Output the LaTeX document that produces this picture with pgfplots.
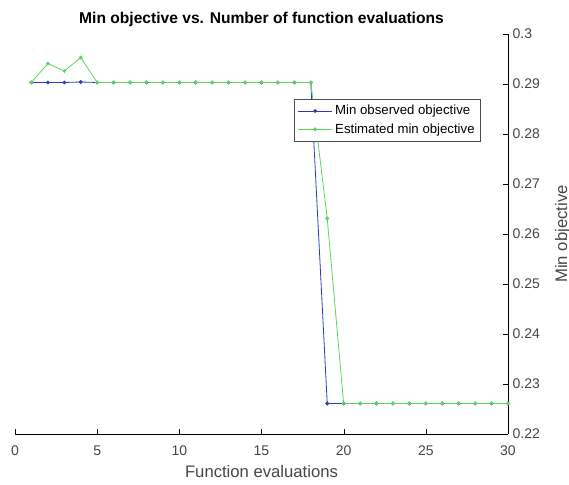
\documentclass[border=0pt]{standalone}
\usepackage{fontspec}
\setmainfont{Liberation Sans}
\usepackage{pgfplots}
\pgfplotsset{compat=1.18}
\definecolor{mblue}{RGB}{45,60,180}
\definecolor{mgreen}{RGB}{90,215,90}
\definecolor{lblgray}{RGB}{70,70,70}
\begin{document}
\begin{tikzpicture}
\begin{axis}[
    name=ax,
    width=369.75pt, height=300pt, scale only axis,
    xmin=0, xmax=30, ymin=0.22, ymax=0.30,
    axis x line*=bottom, axis y line*=right,
    axis line style={-, black},
    xtick={0,5,10,15,20,25,30},
    ytick={0.22,0.23,0.24,0.25,0.26,0.27,0.28,0.29,0.30},
    tick align=inside, major tick length=3.5pt,
    tick style={black},
    /pgf/number format/assume math mode=true,
    yticklabel style={/pgf/number format/fixed, /pgf/number format/precision=2},
    xticklabel style={yshift=-5pt},
    ticklabel style={font=\fontsize{10.5}{12}\selectfont, text=lblgray},
    title={\bfseries Min objective vs. Number of function evaluations},
    title style={font=\fontsize{11.7}{13}\selectfont, yshift=-4pt},
    xlabel={Function evaluations},
    ylabel={Min objective},
    label style={font=\fontsize{12.5}{14}\selectfont, text=lblgray},
    xlabel style={at={(axis description cs:0.5,-0.095)}, anchor=center},
    ylabel style={at={(axis description cs:1.111,0.5)}, anchor=center},
    legend style={at={(0.945,0.8375)}, anchor=north east, font=\fontsize{9.9}{11}\selectfont,
        draw=black!70, fill=white, inner sep=2.5pt, row sep=1pt,
        cells={anchor=west}},
    legend cell align=left,
    legend image code/.code={
        \draw[mark repeat=2, mark phase=2, #1] plot coordinates {(0cm,0cm) (0.45cm,0cm) (0.9cm,0cm)};
    },
]
\addplot[mblue, line width=0.6pt, mark=*, mark size=1.1pt] coordinates {
    (1,0.2903) (2,0.2903) (3,0.2903) (4,0.2904) (5,0.2903) (6,0.2903) (7,0.2903)
    (8,0.2903) (9,0.2903) (10,0.2903) (11,0.2903) (12,0.2903) (13,0.2903) (14,0.2903)
    (15,0.2903) (16,0.2903) (17,0.2903) (18,0.2903) (19,0.2261) (20,0.2261) (21,0.2261)
    (22,0.2261) (23,0.2261) (24,0.2261) (25,0.2261) (26,0.2261) (27,0.2261) (28,0.2261)
    (29,0.2261) (30,0.2261)
};
\addlegendentry{Min observed objective}
\addplot[mgreen, line width=0.6pt, mark=*, mark size=1.1pt] coordinates {
    (1,0.2903) (2,0.2941) (3,0.2926) (4,0.2953) (5,0.2903) (6,0.2903) (7,0.2903)
    (8,0.2903) (9,0.2903) (10,0.2903) (11,0.2903) (12,0.2903) (13,0.2903) (14,0.2903)
    (15,0.2903) (16,0.2903) (17,0.2903) (18,0.2903) (19,0.2631) (20,0.2261) (21,0.2261)
    (22,0.2261) (23,0.2261) (24,0.2261) (25,0.2261) (26,0.2261) (27,0.2261) (28,0.2261)
    (29,0.2261) (30,0.2261)
};
\addlegendentry{Estimated min objective}
\end{axis}
\pgfresetboundingbox
\path[use as bounding box] ([xshift=-11.25pt, yshift=-38.25pt]ax.south west)
    rectangle ([xshift=45.75pt, yshift=25.5pt]ax.north east);
\end{tikzpicture}
\end{document}
